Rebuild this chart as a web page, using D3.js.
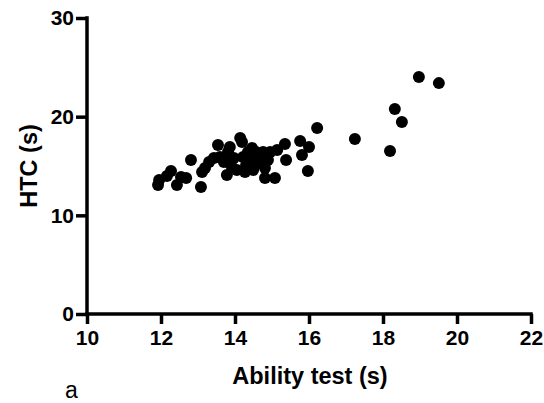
<!DOCTYPE html>
<html><head><meta charset="utf-8">
<script src="https://cdn.jsdelivr.net/npm/d3@7"></script>
<style>body{margin:0;background:#fff}svg{display:block}</style>
</head><body>
<script>
const xTicks = [10, 12, 14, 16, 18, 20, 22];
const yTicks = [0, 10, 20, 30];
const abilityTest = [11.92,11.95,12.16,12.27,12.43,12.54,12.68,12.81,13.08,13.11,13.19,13.30,13.43,13.54,13.59,13.70,13.78,13.81,13.89,13.97,14.05,14.14,14.19,14.22,14.30,14.35,14.43,14.49,14.57,14.62,14.70,14.76,14.81,14.89,14.95,15.08,15.14,15.35,15.38,15.76,15.81,16.00,15.97,16.22,17.24,18.19,18.32,18.51,18.97,19.51,14.46,13.86,14.81,14.27];
const htc = [13.07,13.58,13.98,14.49,13.07,13.88,13.78,15.60,12.87,14.39,14.79,15.40,15.81,17.12,15.91,15.40,14.08,16.41,15.10,15.81,14.59,17.83,17.43,15.91,15.10,16.41,15.60,14.59,16.41,15.30,15.91,16.41,13.78,15.60,16.41,13.78,16.62,17.22,15.60,17.53,16.11,16.92,14.49,18.84,17.73,16.51,20.77,19.45,24.01,23.40,16.82,16.92,14.79,14.39];

const W = 544, H = 403;
const svg = d3.select("body").append("svg").attr("width", W).attr("height", H);
const x = d3.scaleLinear().domain([10, 22]).range([87, 531]);
const y = d3.scaleLinear().domain([0, 30]).range([314, 18]);
const font = "'Liberation Sans', Arial, Helvetica, sans-serif";

const xAxis = svg.append("g").attr("transform", "translate(0,314)")
  .call(d3.axisBottom(x).tickValues(xTicks).tickFormat(d3.format("d")).tickSize(10).tickPadding(6));
const yAxis = svg.append("g").attr("transform", "translate(87,0)")
  .call(d3.axisLeft(y).tickValues(yTicks).tickFormat(d3.format("d")).tickSize(11).tickPadding(2));

[xAxis, yAxis].forEach(g => {
  g.select(".domain").attr("stroke", "#000").attr("stroke-width", 3.5)
    .attr("stroke-linecap", "square");
  g.selectAll(".tick line").attr("stroke", "#000").attr("stroke-width", 3.5);
  g.selectAll(".tick text").attr("fill", "#000")
    .style("font-family", font).style("font-size", "21px").style("font-weight", "bold");
});
xAxis.select(".domain").attr("d", `M${x(10)},0H${x(22)}`);
yAxis.select(".domain").attr("d", `M0,${y(30)}V${y(0)}`);

svg.append("g").selectAll("circle")
  .data(abilityTest.map((v, i) => [v, htc[i]]))
  .join("circle")
  .attr("cx", d => x(d[0])).attr("cy", d => y(d[1]))
  .attr("r", 6).attr("fill", "#000");

svg.append("text").attr("x", 310).attr("y", 384).attr("text-anchor", "middle")
  .style("font-family", font).style("font-size", "23.5px").style("font-weight", "bold")
  .text("Ability test (s)");
svg.append("text").attr("transform", "translate(37,166) rotate(-90)").attr("text-anchor", "middle")
  .style("font-family", font).style("font-size", "23.5px").style("font-weight", "bold")
  .text("HTC (s)");
svg.append("text").attr("x", 65).attr("y", 398)
  .style("font-family", font).style("font-size", "23px")
  .text("a");
</script>
</body></html>
